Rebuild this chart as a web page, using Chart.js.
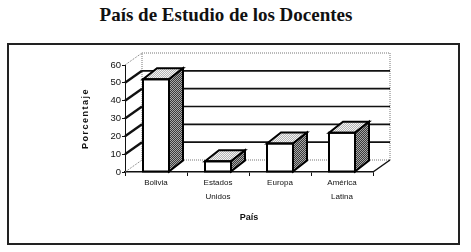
<!DOCTYPE html>
<html>
<head>
<meta charset="utf-8">
<script src="https://cdn.jsdelivr.net/npm/chart.js@4.4.1/dist/chart.umd.min.js"></script>
<style>
    html, body { margin: 0; padding: 0; background: #fff; }
    body { width: 471px; height: 252px; position: relative; overflow: hidden; }
    #title {
        position: absolute; left: 0; top: 5px; width: 452px;
        text-align: center; font: bold 19px "Liberation Serif", serif; line-height: 19px; color: #111;
    }
    #frame {
        position: absolute; left: 7px; top: 43px; width: 453px; height: 202px;
        box-sizing: border-box; border: 2px solid #222;
    }
    #chartBox { position: absolute; left: 0; top: 0; width: 471px; height: 252px; }
</style>
</head>
<body>
<div id="title">País de Estudio de los Docentes</div>
<div id="frame"></div>
<div id="chartBox"><canvas id="paisChart"></canvas></div>
<script>
// Chart data
const categories = [['Bolivia'], ['Estados', 'Unidos'], ['Europa'], ['América', 'Latina']];
const porcentajes = [52, 6, 16, 22];
const yTicks = [0, 10, 20, 30, 40, 50, 60];

// Depth of walls and bars (3D look)
const WALL_DX = 17, WALL_DY = -12;
const BAR_DX = 14, BAR_DY = -11;

// Dithered fill patterns like the scanned original
function makePattern(c1, c2) {
    const p = document.createElement('canvas');
    p.width = 2; p.height = 2;
    const pc = p.getContext('2d');
    pc.fillStyle = c1; pc.fillRect(0, 0, 2, 2);
    pc.fillStyle = c2; pc.fillRect(0, 0, 1, 1); pc.fillRect(1, 1, 1, 1);
    return pc.createPattern(p, 'repeat');
}

function poly(ctx, pts) {
    ctx.beginPath();
    ctx.moveTo(pts[0][0], pts[0][1]);
    for (let i = 1; i < pts.length; i++) ctx.lineTo(pts[i][0], pts[i][1]);
    ctx.closePath();
}

// Walls, floor and grid drawn behind the bars
const wallsPlugin = {
    id: 'walls3d',
    beforeDatasetsDraw(chart) {
        const ctx = chart.ctx;
        const { left, right } = chart.chartArea;
        const y = chart.scales.y;
        const y0 = y.getPixelForValue(yTicks[0]);
        const yMax = y.getPixelForValue(yTicks[yTicks.length - 1]);
        ctx.save();

        // dotted outline of back wall, left wall and floor
        ctx.strokeStyle = '#777';
        ctx.lineWidth = 1;
        ctx.setLineDash([1, 1]);
        ctx.beginPath();
        ctx.rect(left + WALL_DX, yMax + WALL_DY, right - left, y0 - yMax);
        ctx.moveTo(left, yMax); ctx.lineTo(left + WALL_DX, yMax + WALL_DY);
        ctx.moveTo(left, y0); ctx.lineTo(left + WALL_DX, y0 + WALL_DY);
        ctx.stroke();
        ctx.setLineDash([]);

        // grid lines: diagonal on the side wall, horizontal on the back wall
        ctx.strokeStyle = '#111';
        yTicks.slice(1, -1).forEach(v => {
            const py = y.getPixelForValue(v);
            ctx.lineWidth = 2.4;
            ctx.beginPath();
            ctx.moveTo(left, py); ctx.lineTo(left + WALL_DX, py + WALL_DY);
            ctx.stroke();
            ctx.lineWidth = 1.7;
            ctx.beginPath();
            ctx.moveTo(left + WALL_DX, py + WALL_DY); ctx.lineTo(right + WALL_DX, py + WALL_DY);
            ctx.stroke();
        });

        // right edge of floor
        ctx.lineWidth = 1.5;
        ctx.beginPath();
        ctx.moveTo(right, y0); ctx.lineTo(right + WALL_DX, y0 + WALL_DY);
        ctx.stroke();
        ctx.restore();
    },
    afterDatasetsDraw(chart) {
        const ctx = chart.ctx;
        const topFill = makePattern('#b4b4b4', '#f4f4f4');
        const sideFill = makePattern('#3a3a3a', '#a8a8a8');
        ctx.save();
        ctx.strokeStyle = '#000';
        ctx.lineWidth = 2;
        ctx.lineJoin = 'miter';
        chart.getDatasetMeta(0).data.forEach(bar => {
            const l = bar.x - bar.width / 2, r = bar.x + bar.width / 2;
            const t = bar.y, b = bar.base;
            poly(ctx, [[l, t], [l + BAR_DX, t + BAR_DY], [r + BAR_DX, t + BAR_DY], [r, t]]);
            ctx.fillStyle = topFill; ctx.fill(); ctx.stroke();
            poly(ctx, [[r, t], [r + BAR_DX, t + BAR_DY], [r + BAR_DX, b + BAR_DY], [r, b]]);
            ctx.fillStyle = sideFill; ctx.fill(); ctx.stroke();
            ctx.strokeRect(l, t, r - l, b - t);
        });

        // y axis title with wide spacing
        const area = chart.chartArea;
        ctx.translate(86, (area.top + area.bottom) / 2);
        ctx.rotate(-Math.PI / 2);
        ctx.font = 'bold 9px "Liberation Sans", Arial, sans-serif';
        ctx.letterSpacing = '1.5px';
        ctx.fillStyle = '#111';
        ctx.textAlign = 'center';
        ctx.textBaseline = 'middle';
        ctx.fillText('Porcentaje', 0, 0);
        ctx.restore();
    }
};

new Chart(document.getElementById('paisChart'), {
    type: 'bar',
    data: {
        labels: categories,
        datasets: [{
            data: porcentajes,
            backgroundColor: '#ffffff',
            borderColor: '#000000',
            borderWidth: 0,
            barThickness: 26
        }]
    },
    options: {
        responsive: true,
        maintainAspectRatio: false,
        animation: false,
        events: [],
        layout: { padding: { left: 79, right: 98, top: 65, bottom: 28.6 } },
        plugins: {
            legend: { display: false },
            tooltip: { enabled: false }
        },
        scales: {
            x: {
                grid: { display: true, drawOnChartArea: false, drawTicks: true, tickLength: 4, color: '#111', lineWidth: 1 },
                border: { display: true, color: '#111', width: 1.5 },
                ticks: {
                    padding: 0,
                    color: '#111',
                    maxRotation: 0,
                    autoSkip: false,
                    font: { family: '"Liberation Sans", Arial, sans-serif', size: 8, lineHeight: 1.75 }
                },
                title: {
                    display: true,
                    text: 'País',
                    color: '#111',
                    padding: { top: 0, bottom: 0 },
                    font: { family: '"Liberation Sans", Arial, sans-serif', size: 9, weight: 'bold', lineHeight: 1.2 }
                },
                afterFit: s => { s.height = 51.4; }
            },
            y: {
                min: 0,
                max: 60,
                grid: { display: true, drawOnChartArea: false, drawTicks: true, tickLength: 3, color: '#111', lineWidth: 1 },
                border: { display: true, color: '#111', width: 1 },
                ticks: {
                    stepSize: 10,
                    padding: 1,
                    color: '#111',
                    font: { family: '"Liberation Sans", Arial, sans-serif', size: 9.5 }
                },
                afterFit: s => { s.width = 46; }
            }
        }
    },
    plugins: [wallsPlugin]
});
</script>
</body>
</html>
